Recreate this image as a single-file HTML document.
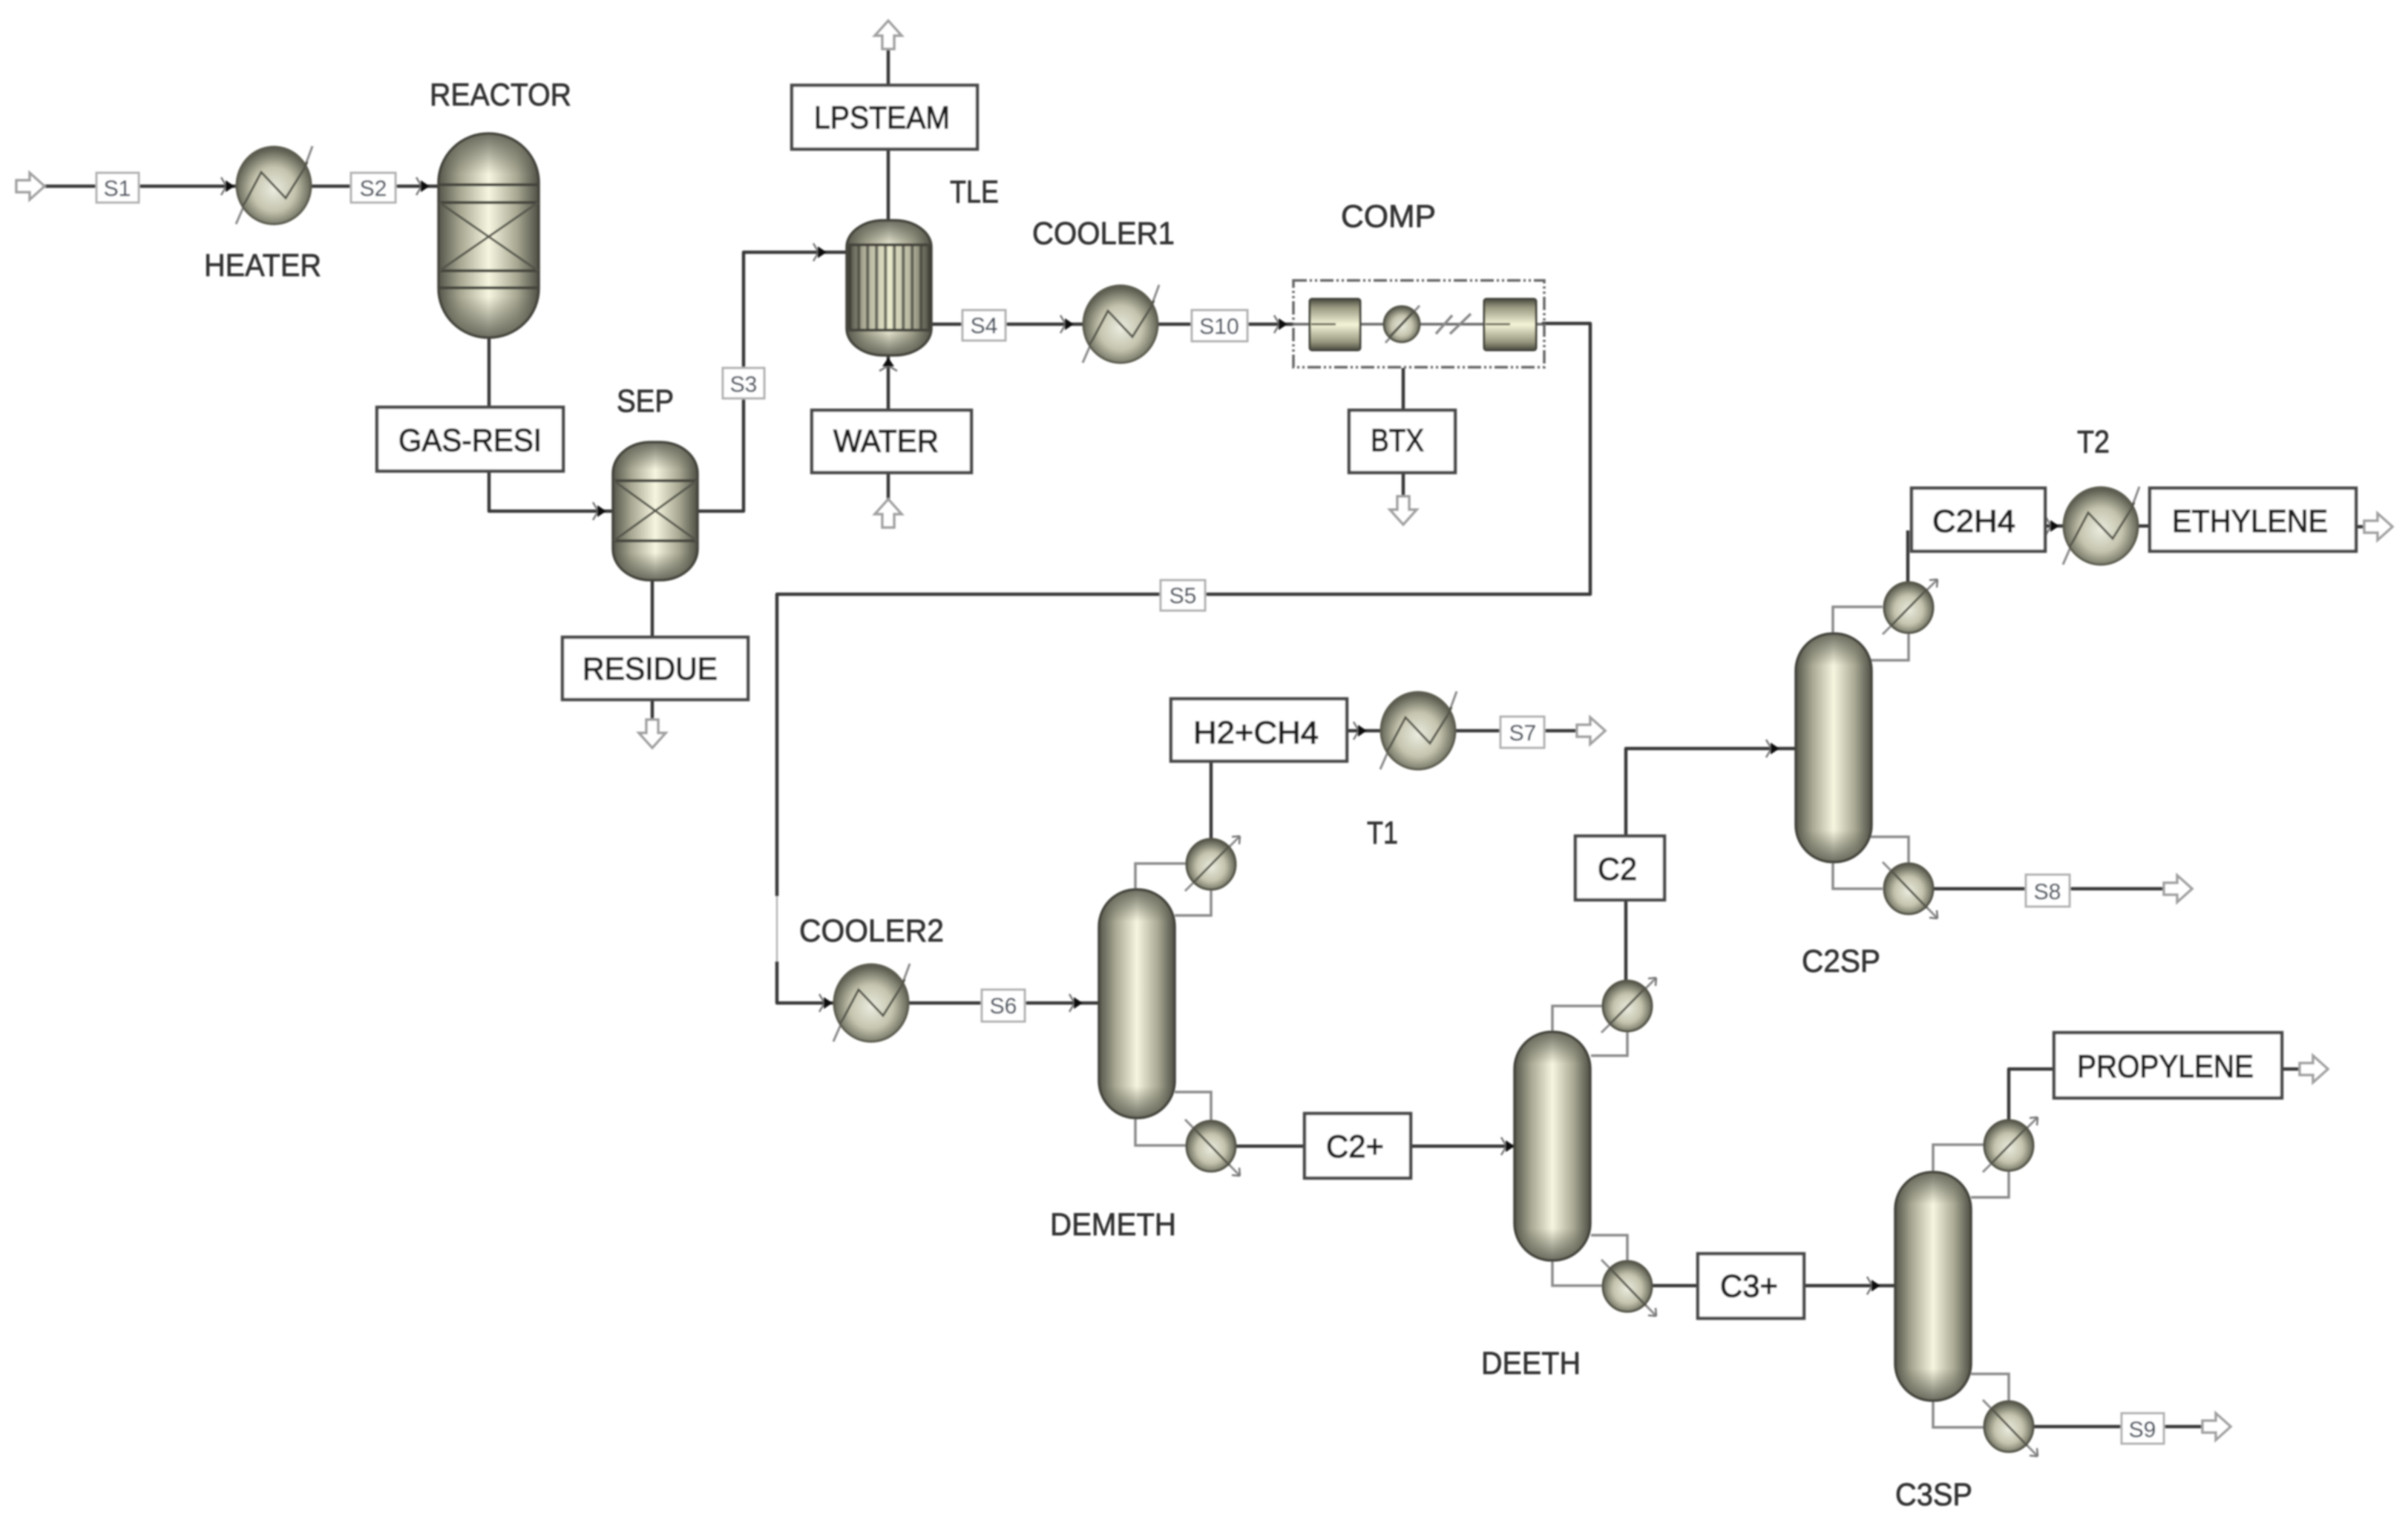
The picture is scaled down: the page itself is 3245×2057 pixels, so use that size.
<!DOCTYPE html>
<html><head><meta charset="utf-8"><style>
html,body{margin:0;padding:0;background:#fff}
svg{display:block}
.l{font-family:"Liberation Sans",sans-serif;font-size:43px;fill:#333;stroke:#333;stroke-width:.8}
.x{fill:#1e1e1e;stroke:#1e1e1e;stroke-width:1.3}
.s{font-family:"Liberation Sans",sans-serif;font-size:30px;fill:#4c5460;stroke:#4c5460;stroke-width:.4;text-anchor:middle}
.m{fill:none;stroke:#383838;stroke-width:4.5;stroke-linejoin:round}
.g{fill:none;stroke:#8a8a8a;stroke-width:3.5}
.b{fill:#fff;stroke:#484848;stroke-width:4.5}
.t{fill:#fff;stroke:#b0b0b0;stroke-width:3}
.o{fill:#fff;stroke:#a0a0a0;stroke-width:3.5;stroke-linejoin:miter}
.d{fill:none;stroke:#55554c;stroke-width:3}
.k{fill:none;stroke:#45453c;stroke-width:4}
</style></head><body>
<svg xmlns="http://www.w3.org/2000/svg" width="3245" height="2057" viewBox="0 0 3245 2057">
<defs>
<filter id="bl" filterUnits="userSpaceOnUse" x="0" y="0" width="3245" height="2057"><feGaussianBlur stdDeviation="1"/></filter>
<linearGradient id="h"><stop offset="0" stop-color="#55554a"/><stop offset=".22" stop-color="#a8a893"/><stop offset=".5" stop-color="#f6f6e0"/><stop offset=".78" stop-color="#a8a893"/><stop offset="1" stop-color="#4f4f45"/></linearGradient>
<linearGradient id="cv" x2="0" y2="1"><stop offset="0" stop-color="#55554a" stop-opacity=".85"/><stop offset=".14" stop-color="#55554a" stop-opacity="0"/><stop offset=".86" stop-color="#55554a" stop-opacity="0"/><stop offset="1" stop-color="#55554a" stop-opacity=".85"/></linearGradient>
<linearGradient id="sv" x2="0" y2="1"><stop offset="0" stop-color="#55554a" stop-opacity=".85"/><stop offset=".2" stop-color="#55554a" stop-opacity="0"/><stop offset=".8" stop-color="#55554a" stop-opacity="0"/><stop offset="1" stop-color="#55554a" stop-opacity=".85"/></linearGradient>
<linearGradient id="cb" x2="0" y2="1"><stop offset="0" stop-color="#4a4a40"/><stop offset=".16" stop-color="#97977f"/><stop offset=".5" stop-color="#f4f4d8"/><stop offset=".84" stop-color="#97977f"/><stop offset="1" stop-color="#4a4a40"/></linearGradient>
<radialGradient id="r" cx=".5" cy=".55" r=".52"><stop offset="0" stop-color="#ecece0"/><stop offset=".55" stop-color="#c4c4ae"/><stop offset="1" stop-color="#5f5f52"/></radialGradient>
<pattern id="tb" width="12" height="20" patternUnits="userSpaceOnUse" x="1143" y="0"><rect width="12" height="20" fill="#eaeacd"/><rect width="4.5" height="20" fill="#77776a"/></pattern>
<linearGradient id="te"><stop offset="0" stop-color="#3a3a32" stop-opacity=".95"/><stop offset=".2" stop-color="#3a3a32" stop-opacity=".35"/><stop offset=".5" stop-color="#3a3a32" stop-opacity="0"/><stop offset=".8" stop-color="#3a3a32" stop-opacity=".35"/><stop offset="1" stop-color="#3a3a32" stop-opacity=".95"/></linearGradient>
<path id="oa" d="M0,-8 L18,-8 L18,-18 L38,0 L18,18 L18,8 L0,8 Z"/>
<g id="ah"><path d="M-18,-12 L-11,0 L-18,12" fill="none" stroke="#777" stroke-width="2.5"/><path d="M-12,-8 L0,0 L-12,8 Z" fill="#111"/></g>
<g id="hx">
<path d="M-51,52 L-37,20 M41,-23 L52,-53" stroke="#8a8a8a" stroke-width="3" fill="none"/>
<ellipse rx="50" ry="52" fill="url(#r)" stroke="#5c5c50" stroke-width="3"/>
<path class="d" d="M-42,28 L-37,20 L-17,-18 L16,17 L41,-23 L45,-32"/>
</g>
<g id="cd">
<path d="M-35,36 L39,-38" stroke="#8a8a8a" stroke-width="3"/>
<ellipse rx="33" ry="34" fill="url(#r)" stroke="#55554a" stroke-width="3"/>
<path class="d" d="M-24,25 L25,-25"/>
<path d="M39,-38 l-11,1 M39,-38 l-1,11" stroke="#777" stroke-width="2.5" fill="none"/>
</g>
<g id="rb">
<path d="M-35,-36 L39,40" stroke="#8a8a8a" stroke-width="3"/>
<ellipse rx="33" ry="34" fill="url(#r)" stroke="#55554a" stroke-width="3"/>
<path class="d" d="M-24,-25 L25,26"/>
<path d="M39,40 l-11,-1 M39,40 l-1,-11" stroke="#777" stroke-width="2.5" fill="none"/>
</g>
<g id="col">
<rect x="0" y="0" width="102" height="308" rx="50" ry="50" fill="url(#h)"/>
<rect x="0" y="0" width="102" height="308" rx="50" ry="50" fill="url(#cv)" stroke="#45453c" stroke-width="3.5"/>
</g>
</defs>
<rect width="3245" height="2057" fill="#fff"/>
<g filter="url(#bl)">

<!-- connectors -->
<path class="m" d="M60,251 H322"/>
<path class="m" d="M418,251 H591"/>
<path class="m" d="M659,455 V549"/>
<path class="m" d="M659,635 V689 H826"/>
<path class="m" d="M940,689 H1002 V340 H1142"/>
<path class="m" d="M879,782 V859"/>
<path class="m" d="M879,943 V971"/>
<path class="m" d="M1197,66 V115"/>
<path class="m" d="M1197,201 V297"/>
<path class="m" d="M1197,553 V479"/>
<path class="m" d="M1197,637 V675"/>
<path class="m" d="M1255,437 H1463"/>
<path class="m" d="M1558,437 H1743"/>
<path d="M1743,437 H2081" stroke="#6c6c6c" stroke-width="3.5" fill="none"/>
<path class="m" d="M2078,436 H2143 V801 H1047 V1208"/>
<path d="M1047,1208 V1296" stroke="#b4b4b4" stroke-width="2.5" fill="none"/>
<path class="m" d="M1047,1296 V1352 H1126"/>
<path class="m" d="M1891,496 V553"/>
<path class="m" d="M1891,637 V669"/>
<path class="m" d="M1222,1352 H1481"/>
<path class="m" d="M1632,1026 V1131"/>
<path class="m" d="M1815,985 H1864"/>
<path class="m" d="M1958,985 H2125"/>
<path class="m" d="M1666,1545 H1758"/>
<path class="m" d="M1901,1545 H2041"/>
<path class="m" d="M2191,1322 V1213"/>
<path class="m" d="M2191,1127 V1009 H2421"/>
<path class="m" d="M2571,785 V715"/>
<path class="m" d="M2756,709 H2784"/>
<path class="m" d="M2878,709 H2897"/>
<path class="m" d="M3175,710 H3187"/>
<path class="m" d="M2606,1198 H2917"/>
<path class="m" d="M2226,1733 H2288"/>
<path class="m" d="M2431,1733 H2555"/>
<path class="m" d="M2707,1510 V1441 H2768"/>
<path class="m" d="M3075,1441 H3100"/>
<path class="m" d="M2741,1923 H2968"/>

<!-- reflux links -->
<path class="g" d="M1530,1199 V1164 H1598 M1632,1197 V1234 H1583"/>
<path class="g" d="M1583,1472 H1632 V1511 M1530,1507 V1544 H1598"/>
<path class="g" d="M2092,1390 V1356 H2160 M2193,1389 V1423 H2144"/>
<path class="g" d="M2144,1665 H2193 V1700 M2092,1699 V1733 H2160"/>
<path class="g" d="M2470,854 V818 H2537 M2572,852 V890 H2521"/>
<path class="g" d="M2521,1128 H2572 V1164 M2470,1162 V1198 H2537"/>
<path class="g" d="M2605,1580 V1543 H2674 M2707,1578 V1614 H2656"/>
<path class="g" d="M2656,1852 H2707 V1888 M2605,1888 V1924 H2674"/>

<!-- solid arrowheads -->
<use href="#ah" x="316" y="251"/>
<use href="#ah" x="579" y="251"/>
<use href="#ah" x="817" y="689"/>
<use href="#ah" x="1114" y="340"/>
<use href="#ah" x="1447" y="437"/>
<use href="#ah" x="1735" y="437"/>
<use href="#ah" transform="translate(1197,482) rotate(-90)"/>
<use href="#ah" x="1122" y="1352"/>
<use href="#ah" x="1459" y="1352"/>
<use href="#ah" x="1842" y="985"/>
<use href="#ah" x="2041" y="1545"/>
<use href="#ah" x="2398" y="1009"/>
<use href="#ah" x="2775" y="709"/>
<use href="#ah" x="2534" y="1733"/>

<!-- open port arrows -->
<g class="o">
<use href="#oa" transform="translate(22,251)"/>
<use href="#oa" transform="translate(1197,66) rotate(-90)"/>
<use href="#oa" transform="translate(1197,711) rotate(-90)"/>
<use href="#oa" transform="translate(879,970) rotate(90)"/>
<use href="#oa" transform="translate(1891,669) rotate(90)"/>
<use href="#oa" transform="translate(2125,985)"/>
<use href="#oa" transform="translate(3186,710)"/>
<use href="#oa" transform="translate(2916,1198)"/>
<use href="#oa" transform="translate(3099,1441)"/>
<use href="#oa" transform="translate(2968,1923)"/>
</g>

<!-- reactor -->
<rect x="591" y="180" width="135" height="275" rx="67" ry="66" fill="url(#h)"/>
<rect x="591" y="180" width="135" height="275" rx="67" ry="66" fill="url(#sv)" stroke="#45453c" stroke-width="3.5"/>
<path class="k" d="M592,249 H725 M592,273 H725 M592,365 H725 M592,388 H725"/>
<path d="M592,273 L725,365 M725,273 L592,365" stroke="#55554c" stroke-width="3"/>

<!-- sep -->
<rect x="826" y="596" width="114" height="186" rx="50" ry="42" fill="url(#h)"/>
<rect x="826" y="596" width="114" height="186" rx="50" ry="42" fill="url(#sv)" stroke="#45453c" stroke-width="3.5"/>
<path class="k" d="M827,648 H939 M827,729 H939"/>
<path d="M827,648 L939,729 M939,648 L827,729" stroke="#55554c" stroke-width="3"/>

<!-- TLE -->
<rect x="1141" y="297" width="114" height="182" rx="50" ry="36" fill="url(#h)"/>
<rect x="1141" y="297" width="114" height="182" rx="50" ry="36" fill="url(#sv)" stroke="#45453c" stroke-width="3.5"/>
<rect x="1142" y="330" width="112" height="115" fill="url(#tb)"/>
<rect x="1142" y="330" width="112" height="115" fill="url(#te)"/>
<path class="k" d="M1142,330 H1254 M1142,445 H1254"/>

<!-- heaters -->
<use href="#hx" x="369" y="250"/>
<use href="#hx" x="1510" y="437"/>
<use href="#hx" x="1174" y="1352"/>
<use href="#hx" x="1911" y="985"/>
<use href="#hx" x="2831" y="709"/>

<!-- comp -->
<rect x="1743" y="378" width="338" height="117" fill="none" stroke="#666" stroke-width="3.5" stroke-dasharray="18 4 3 4 3 4"/>
<rect x="1765" y="403" width="68" height="69" rx="3" fill="url(#cb)" stroke="#45453c" stroke-width="3"/>
<rect x="2000" y="403" width="70" height="69" rx="3" fill="url(#cb)" stroke="#45453c" stroke-width="3"/>
<path d="M1767,437 H1800 M2002,437 H2035" stroke="#6a6a5a" stroke-width="3"/>
<path d="M1867,462 L1913,412" stroke="#8a8a8a" stroke-width="3"/>
<circle cx="1889" cy="437" r="24" fill="url(#r)" stroke="#55554a" stroke-width="3"/>
<path d="M1873,454 L1905,420" stroke="#55554c" stroke-width="3.5"/>
<path d="M1935,450 L1957,425 M1954,450 L1982,423" stroke="#888" stroke-width="3.5"/>

<!-- columns -->
<use href="#col" x="1481" y="1199"/>
<use href="#col" x="2041" y="1391"/>
<use href="#col" x="2420" y="854"/>
<use href="#col" x="2554" y="1580"/>

<!-- condensers / reboilers -->
<use href="#cd" x="1632" y="1165"/>
<use href="#rb" x="1632" y="1545"/>
<use href="#cd" x="2193" y="1356"/>
<use href="#rb" x="2193" y="1734"/>
<use href="#cd" x="2572" y="819"/>
<use href="#rb" x="2572" y="1198"/>
<use href="#cd" x="2707" y="1544"/>
<use href="#rb" x="2707" y="1923"/>

<!-- blocks -->
<rect class="b" x="508" y="549" width="251" height="86"/>
<rect class="b" x="758" y="859" width="250" height="84"/>
<rect class="b" x="1067" y="115" width="250" height="86"/>
<rect class="b" x="1094" y="553" width="215" height="84"/>
<rect class="b" x="1818" y="553" width="143" height="84"/>
<rect class="b" x="1578" y="942" width="237" height="84"/>
<rect class="b" x="1758" y="1501" width="143" height="87"/>
<rect class="b" x="2123" y="1127" width="120" height="86"/>
<rect class="b" x="2288" y="1690" width="143" height="87"/>
<rect class="b" x="2576" y="658" width="180" height="85"/>
<rect class="b" x="2897" y="658" width="278" height="85"/>
<rect class="b" x="2768" y="1392" width="307" height="88"/>

<!-- stream tags -->
<rect class="t" x="130" y="233" width="57" height="40"/>
<rect class="t" x="473" y="233" width="60" height="40"/>
<rect class="t" x="974" y="496" width="56" height="41"/>
<rect class="t" x="1297" y="418" width="58" height="41"/>
<rect class="t" x="1606" y="418" width="75" height="42"/>
<rect class="t" x="1564" y="782" width="60" height="41"/>
<rect class="t" x="1323" y="1334" width="58" height="43"/>
<rect class="t" x="2022" y="966" width="59" height="42"/>
<rect class="t" x="2730" y="1179" width="59" height="43"/>
<rect class="t" x="2859" y="1905" width="57" height="41"/>
<text class="s" x="158" y="264">S1</text>
<text class="s" x="503" y="264">S2</text>
<text class="s" x="1002" y="528">S3</text>
<text class="s" x="1326" y="449">S4</text>
<text class="s" x="1643" y="450">S10</text>
<text class="s" x="1594" y="813">S5</text>
<text class="s" x="1352" y="1366">S6</text>
<text class="s" x="2052" y="998">S7</text>
<text class="s" x="2759" y="1212">S8</text>
<text class="s" x="2887" y="1937">S9</text>

<!-- labels -->
<text class="l" x="579" y="142" textLength="191" lengthAdjust="spacingAndGlyphs">REACTOR</text>
<text class="l" x="275" y="372" textLength="158" lengthAdjust="spacingAndGlyphs">HEATER</text>
<text class="l x" x="537" y="608" textLength="193" lengthAdjust="spacingAndGlyphs">GAS-RESI</text>
<text class="l" x="831" y="555" textLength="77" lengthAdjust="spacingAndGlyphs">SEP</text>
<text class="l x" x="785" y="916" textLength="182" lengthAdjust="spacingAndGlyphs">RESIDUE</text>
<text class="l x" x="1097" y="173" textLength="183" lengthAdjust="spacingAndGlyphs">LPSTEAM</text>
<text class="l x" x="1123" y="609" textLength="142" lengthAdjust="spacingAndGlyphs">WATER</text>
<text class="l" x="1280" y="273" textLength="66" lengthAdjust="spacingAndGlyphs">TLE</text>
<text class="l" x="1391" y="329" textLength="192" lengthAdjust="spacingAndGlyphs">COOLER1</text>
<text class="l" x="1807" y="306" textLength="128" lengthAdjust="spacingAndGlyphs">COMP</text>
<text class="l x" x="1847" y="608" textLength="72" lengthAdjust="spacingAndGlyphs">BTX</text>
<text class="l" x="1077" y="1269" textLength="195" lengthAdjust="spacingAndGlyphs">COOLER2</text>
<text class="l x" x="1608" y="1002" textLength="169" lengthAdjust="spacingAndGlyphs">H2+CH4</text>
<text class="l" x="1842" y="1137" textLength="42" lengthAdjust="spacingAndGlyphs">T1</text>
<text class="l" x="1415" y="1665" textLength="170" lengthAdjust="spacingAndGlyphs">DEMETH</text>
<text class="l x" x="1787" y="1560" textLength="78" lengthAdjust="spacingAndGlyphs">C2+</text>
<text class="l" x="1996" y="1852" textLength="134" lengthAdjust="spacingAndGlyphs">DEETH</text>
<text class="l x" x="2153" y="1186" textLength="53" lengthAdjust="spacingAndGlyphs">C2</text>
<text class="l x" x="2604" y="717" textLength="112" lengthAdjust="spacingAndGlyphs">C2H4</text>
<text class="l" x="2799" y="610" textLength="44" lengthAdjust="spacingAndGlyphs">T2</text>
<text class="l x" x="2927" y="717" textLength="210" lengthAdjust="spacingAndGlyphs">ETHYLENE</text>
<text class="l" x="2428" y="1310" textLength="106" lengthAdjust="spacingAndGlyphs">C2SP</text>
<text class="l x" x="2318" y="1748" textLength="78" lengthAdjust="spacingAndGlyphs">C3+</text>
<text class="l x" x="2799" y="1452" textLength="238" lengthAdjust="spacingAndGlyphs">PROPYLENE</text>
<text class="l" x="2554" y="2029" textLength="104" lengthAdjust="spacingAndGlyphs">C3SP</text>
</g>
</svg>
</body></html>
